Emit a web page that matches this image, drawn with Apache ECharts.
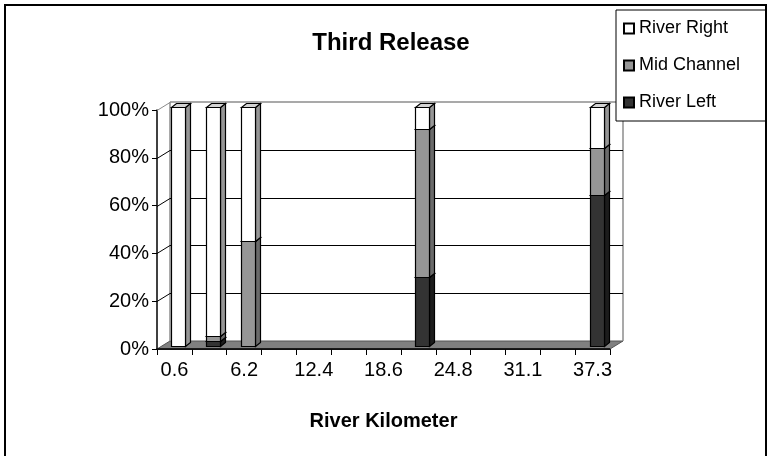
<!DOCTYPE html>
<html>
<head>
<meta charset="utf-8">
<script src="https://cdn.jsdelivr.net/npm/echarts@6/dist/echarts.min.js"></script>
<style>
  html, body { margin: 0; padding: 0; background: #fff; }
  #chart { width: 767px; height: 456px; }
</style>
</head>
<body>
<div id="chart"></div>
<script>
// River kilometre stations (every other one is labelled on the axis)
const categories = ['0.6', '3.1', '6.2', '9.3', '12.4', '15.5', '18.6', '21.7', '24.8', '27.9', '31.1', '34.2', '37.3'];

// Share of fish at each station, in percent
const riverLeft  = [0, 2, 0, 0, 0, 0, 0, 29, 0, 0, 0, 0, 63];
const midChannel = [0, 2, 44, 0, 0, 0, 0, 62, 0, 0, 0, 0, 20];
const riverRight = [100, 96, 56, 0, 0, 0, 0, 9, 0, 0, 0, 0, 17];

const yTicks = [0, 20, 40, 60, 80, 100];

// Pseudo-3D look: depth of the floor/back wall and of each column
const WALL_DX = 13, WALL_DY = -8;
const BAR_DX = 4, BAR_DY = -3;
const SIDE_DX = 5, SIDE_DY = -4;
const BAR_W = 14;

const FONT = 'Liberation Sans, Arial, sans-serif';

const seriesDefs = [
  { name: 'River Left',  values: riverLeft,  front: '#333333', side: '#1c1c1c', top: '#2a2a2a' },
  { name: 'Mid Channel', values: midChannel, front: '#969696', side: '#6a6a6a', top: '#7d7d7d' },
  { name: 'River Right', values: riverRight, front: '#ffffff', side: '#969696', top: '#d4d4d4' }
];

// Build stacked [category, base, top] triples
const cumulative = categories.map(() => 0);
const stacked = seriesDefs.map(def => {
  const out = [];
  def.values.forEach((v, i) => {
    if (v > 0) out.push([i, cumulative[i], cumulative[i] + v]);
    cumulative[i] += v;
  });
  return out;
});

function barRenderer(def) {
  return function (params, api) {
    const cat = api.value(0), lo = api.value(1), hi = api.value(2);
    const pLo = api.coord([cat, lo]);
    const pHi = api.coord([cat, hi]);
    const x0 = Math.round(pLo[0] - BAR_W / 2 + BAR_DX) + 0.5;
    const yb = Math.round(pLo[1] + BAR_DY) + 0.5;
    const yt = Math.round(pHi[1] + BAR_DY) + 0.5;
    const x1 = x0 + BAR_W;
    const stroke = { stroke: '#000', lineWidth: 1.2 };
    return {
      type: 'group',
      children: [
        { type: 'polygon', shape: { points: [[x1, yt], [x1 + SIDE_DX, yt + SIDE_DY], [x1 + SIDE_DX, yb + SIDE_DY], [x1, yb]] },
          style: Object.assign({ fill: def.side }, stroke) },
        { type: 'polygon', shape: { points: [[x0, yt], [x0 + SIDE_DX, yt + SIDE_DY], [x1 + SIDE_DX, yt + SIDE_DY], [x1, yt]] },
          style: Object.assign({ fill: def.top }, stroke) },
        { type: 'rect', shape: { x: x0, y: yt, width: BAR_W, height: yb - yt },
          style: Object.assign({ fill: def.front }, stroke) }
      ]
    };
  };
}

// Floor, walls and gridlines drawn against the grid's own value scale
function wallRenderer(params, api) {
  const cs = params.coordSys;
  const left = cs.x, right = cs.x + cs.width;
  const bottom = api.coord([0, 0])[1];
  const topY = api.coord([0, 100])[1];
  const children = [];
  children.push({
    type: 'polygon',
    shape: { points: [[left, bottom], [right, bottom], [right + WALL_DX, bottom + WALL_DY], [left + WALL_DX, bottom + WALL_DY]] },
    style: { fill: '#808080', stroke: '#555', lineWidth: 1 }
  });
  // back wall outline
  children.push({ type: 'line', shape: { x1: left + WALL_DX, y1: topY + WALL_DY, x2: right + WALL_DX, y2: topY + WALL_DY }, style: { stroke: '#8c8c8c', lineWidth: 1.5 } });
  children.push({ type: 'line', shape: { x1: right + WALL_DX, y1: topY + WALL_DY, x2: right + WALL_DX, y2: bottom + WALL_DY }, style: { stroke: '#8c8c8c', lineWidth: 1.5 } });
  children.push({ type: 'line', shape: { x1: left + WALL_DX, y1: topY + WALL_DY, x2: left + WALL_DX, y2: bottom + WALL_DY }, style: { stroke: '#8c8c8c', lineWidth: 1.5 } });
  yTicks.forEach(v => {
    if (v === 0) return;
    const y = Math.round(api.coord([0, v])[1]) + 0.5;
    const col = v === 100 ? '#8c8c8c' : '#000';
    children.push({ type: 'line', shape: { x1: left, y1: y, x2: left + WALL_DX, y2: y + WALL_DY }, style: { stroke: col, lineWidth: 1 } });
    if (v !== 100) {
      children.push({ type: 'line', shape: { x1: left + WALL_DX, y1: y + WALL_DY, x2: right + WALL_DX, y2: y + WALL_DY }, style: { stroke: '#000', lineWidth: 1 } });
    }
  });
  children.push({ type: 'line', shape: { x1: left, y1: bottom, x2: right, y2: bottom }, style: { stroke: '#000', lineWidth: 1.5 } });
  return { type: 'group', children: children };
}

const chart = echarts.init(document.getElementById('chart'), null, { renderer: 'canvas' });

const series = [{
  type: 'custom',
  name: 'walls',
  silent: true,
  z: 1,
  renderItem: wallRenderer,
  data: [[0, 0]]
}];
seriesDefs.forEach((def, k) => {
  series.push({
    type: 'custom',
    name: def.name,
    z: 3 + k,
    renderItem: barRenderer(def),
    itemStyle: { color: def.front, borderColor: '#000', borderWidth: 1 },
    encode: { x: 0, y: [1, 2] },
    data: stacked[k]
  });
});

chart.setOption({
  animation: false,
  backgroundColor: '#fff',
  graphic: [{
    type: 'rect',
    shape: { x: 5, y: 5, width: 761, height: 470 },
    style: { fill: 'none', stroke: '#000', lineWidth: 2 },
    z: 100
  }],
  title: {
    text: 'Third Release',
    left: 386,
    top: 26,
    textAlign: 'center',
    textStyle: { fontFamily: FONT, fontSize: 24, fontWeight: 'bold', color: '#000' }
  },
  legend: {
    orient: 'vertical',
    left: 616,
    top: 10,
    data: ['River Right', 'Mid Channel', 'River Left'],
    icon: 'rect',
    itemWidth: 10,
    itemHeight: 10,
    itemGap: 18,
    padding: [9, 40, 9, 7],
    borderColor: '#000',
    borderWidth: 1,
    backgroundColor: '#fff',
    textStyle: { fontFamily: FONT, fontSize: 18, color: '#000', lineHeight: 19 }
  },
  grid: { left: 157, top: 110, width: 453, height: 239, containLabel: false },
  xAxis: {
    type: 'category',
    data: categories,
    boundaryGap: true,
    name: 'River Kilometer',
    nameLocation: 'middle',
    nameGap: 62,
    nameTextStyle: { fontFamily: FONT, fontSize: 20, fontWeight: 'bold', color: '#000' },
    axisLine: { show: true, lineStyle: { color: '#000', width: 1.5 } },
    axisTick: { show: true, interval: 0, length: 6, lineStyle: { color: '#000' } },
    axisLabel: { interval: 1, margin: 11, fontFamily: FONT, fontSize: 20, color: '#000' },
    splitLine: { show: false }
  },
  yAxis: {
    type: 'value',
    min: 0,
    max: 100,
    interval: 20,
    axisLine: { show: true, lineStyle: { color: '#000', width: 1.5 } },
    axisTick: { show: true, length: 5, lineStyle: { color: '#000' } },
    axisLabel: { formatter: '{value}%', margin: 8, fontFamily: FONT, fontSize: 20, color: '#000' },
    splitLine: { show: false }
  },
  series: series
});
</script>
</body>
</html>
